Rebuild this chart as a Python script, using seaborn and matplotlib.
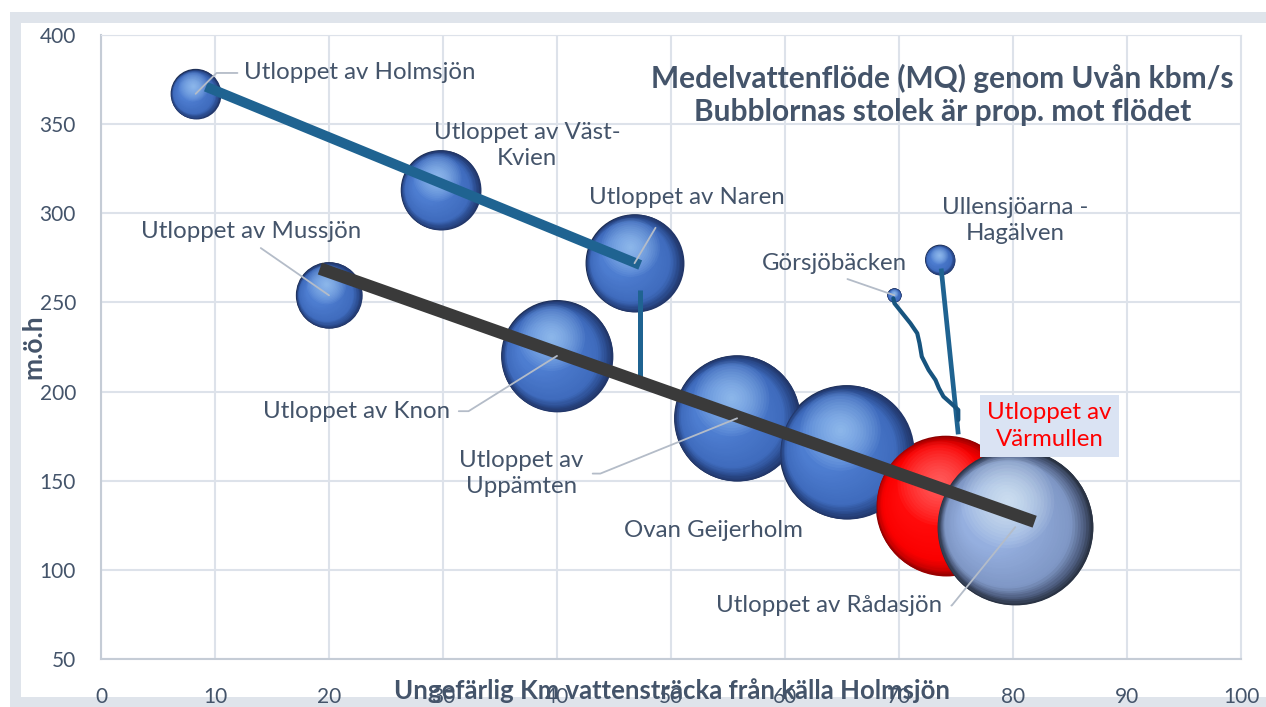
import numpy as np
import pandas as pd
import matplotlib.pyplot as plt
from matplotlib.colors import LinearSegmentedColormap
from matplotlib.patches import Rectangle
from matplotlib.transforms import offset_copy
import seaborn as sns

# bubbles: measuring points along Uvån
names = ['Utloppet av Holmsjön', 'Utloppet av Mussjön', 'Utloppet av Väst-\nKvien',
         'Utloppet av Knon', 'Utloppet av Naren', 'Utloppet av\nUppämten',
         'Ovan Geijerholm', 'Görsjöbäcken', 'Ullensjöarna -\nHagälven',
         'Utloppet av\nVärmullen', 'Utloppet av Rådasjön']
km = [8.3, 20.0, 29.8, 40.0, 46.8, 55.8, 65.4, 69.6, 73.6, 74.1, 80.2]
moh = [367, 254, 313, 220, 272, 185, 166, 254, 274, 136, 124]
mq = [2.5, 4.4, 6.4, 12.5, 9.6, 15.9, 18.0, 0.2, 0.9, 19.6, 24.3]
kind = ['blue'] * 9 + ['red', 'grey']

# river paths drawn between the points
holm_x = [9.2, 47.3]
holm_y = [371, 271]
naren_x = [47.3, 47.3]
naren_y = [257, 205]
main_x = [19.2, 81.9]
main_y = [269, 127]
ullen_x = [73.7, 75.2]
ullen_y = [269, 176]
gors_x = [69.5, 69.6, 70.3, 71.0, 71.6, 71.8, 72.0, 72.6, 73.2, 73.5, 73.9, 74.5, 75.2, 75.2]
gors_y = [252.3, 249.5, 243.9, 238.3, 232.7, 227.1, 219.6, 212.1, 206.5, 201.9, 197.2, 193.8, 189.7, 184.1]

df = pd.DataFrame({'name': names, 'km': km, 'moh': moh, 'mq': mq, 'kind': kind})

sns.set_style("whitegrid")
plt.rcParams['font.family'] = ['Lato', 'DejaVu Sans']

txt = '#44546A'
fig = plt.figure(figsize=(12.66, 7.07), dpi=100)
fig.patch.set_facecolor('white')
# grey chart frame
fig.add_artist(Rectangle((10 / 1266, 0), 1, 695 / 707, transform=fig.transFigure,
                         fc='#dfe4eb', ec='none', zorder=-10))
fig.add_artist(Rectangle((21 / 1266, 10 / 707), 1, 674 / 707, transform=fig.transFigure,
                         fc='white', ec='none', zorder=-9))

ax = fig.add_axes([101 / 1266, 48 / 707, 1140 / 1266, 624 / 707])
ax.set_facecolor('none')

# bubble area proportional to flow
k = 518
sns.scatterplot(data=df, x='km', y='moh', size='mq',
                sizes=(df.mq.min() * k, df.mq.max() * k),
                hue='kind', palette={'blue': '#1b2c4f', 'red': '#8a0000', 'grey': '#232b3a'},
                linewidth=0, legend=False, ax=ax, zorder=2)

cmaps = {
    'blue': LinearSegmentedColormap.from_list('b', [(0, '#22376a'), (0.12, '#2b4c8e'), (0.3, '#3f6bbd'),
                                                    (1, '#4d7dd0')]),
    'red': LinearSegmentedColormap.from_list('r', [(0, '#9a0000'), (0.12, '#d40000'), (0.3, '#fa0000'),
                                                   (1, '#ff0a0a')]),
    'grey': LinearSegmentedColormap.from_list('g', [(0, '#2a3344'), (0.12, '#4e5e80'), (0.3, '#7f97c5'),
                                                    (1, '#95afdf')]),
}
glow = {'blue': '#b5dcff', 'red': '#ff8c8c', 'grey': '#effdff'}

# 3d sphere look: dark rim on the lower right, soft highlight near the top
for _, row in df.iterrows():
    R = np.sqrt(row.mq * k) / 2
    cmap = cmaps[row.kind]
    for t in np.linspace(0, 1, 28):
        r = R * (1 - 0.6 * t)
        tr = offset_copy(ax.transData, fig=fig, x=-0.3 * R * t, y=0.12 * R * t, units='points')
        ax.scatter(row.km, row.moh, s=(2 * r) ** 2, color=cmap(t), linewidths=0,
                   transform=tr, zorder=3)
    tr = offset_copy(ax.transData, fig=fig, x=-0.1 * R, y=0.33 * R, units='points')
    for j in range(14):
        r = 0.6 * R * (1 - j / 14)
        ax.scatter(row.km, row.moh, s=(2 * r) ** 2, color=glow[row.kind], alpha=0.07,
                   linewidths=0, transform=tr, zorder=3)

# river lines
blue = '#1F6391'
ax.plot(holm_x, holm_y, color=blue, lw=7.2, solid_capstyle='butt', zorder=5)
ax.plot(naren_x, naren_y, color=blue, lw=3.6, solid_capstyle='butt', zorder=5)
ax.plot(ullen_x, ullen_y, color=blue, lw=3.4, solid_capstyle='butt', zorder=5)
ax.plot(gors_x, gors_y, color='#17547f', lw=3, solid_joinstyle='round', zorder=5)
ax.plot(main_x, main_y, color='#3a3a3a', lw=9, solid_capstyle='butt', zorder=5)

# labels
lead = '#b4bcc8'
fs = 17.3
def label(i, tx, ty, ha='center', leader=None, **kw):
    if leader is None:
        ax.text(tx, ty, names[i], ha=ha, va='center', fontsize=fs, color=kw.get('color', txt),
                linespacing=1.3, zorder=7, bbox=kw.get('bbox'))
    else:
        relpos, cs, shrink = leader
        ax.annotate(names[i], xy=(km[i], moh[i]), xytext=(tx, ty), ha=ha, va='center',
                    fontsize=fs, color=txt, linespacing=1.3, zorder=7,
                    arrowprops=dict(arrowstyle='-', color=lead, lw=1.3, relpos=relpos,
                                    connectionstyle=cs, shrinkA=shrink, shrinkB=0))

label(0, 12.5, 378.7, ha='left', leader=((0, 0.5), 'angle,angleA=0,angleB=45,rad=0', 2))
label(1, 13.2, 290, leader=((0.5, 0), 'arc3', 4))
label(2, 37.4, 338)
label(3, 22.4, 189, leader=((1, 0.5), 'angle,angleA=0,angleB=32,rad=0', 4))
label(4, 51.4, 309, leader=((0.4, 0), 'arc3', 14))
label(5, 36.9, 154, leader=((1, 0.5), 'angle,angleA=0,angleB=22,rad=0', 4))
label(6, 53.7, 122)
label(7, 64.3, 271.6, leader=((0.5, 0), 'arc3', 3))
label(8, 80.2, 296)
label(9, 83.2, 180.7, color='#ff0000',
      bbox=dict(boxstyle='square,pad=0.3', fc='#dae3f3', ec='none'))
label(10, 63.9, 80, leader=((1, 0.5), 'angle,angleA=0,angleB=51,rad=0', 4))

ax.text(0.738, 0.904, 'Medelvattenflöde (MQ) genom Uvån kbm/s\nBubblornas stolek är prop. mot flödet',
        transform=ax.transAxes, ha='center', va='center', fontsize=21.5, fontweight='bold',
        color=txt, linespacing=1.25, zorder=8)

# axes
ax.set_xlim(0, 100)
ax.set_ylim(50, 400)
ax.set_xticks(range(0, 101, 10))
ax.set_yticks(range(50, 401, 50))
ax.grid(True, color='#dde2ea', lw=1.5)
ax.set_axisbelow(True)
for side in ['top', 'right']:
    ax.spines[side].set_color('#dde2ea')
for side in ['left', 'bottom']:
    ax.spines[side].set_color('#c5ccd6')
    ax.spines[side].set_linewidth(1.5)
ax.tick_params(axis='both', length=0, labelsize=15, colors=txt)
ax.tick_params(axis='x', pad=20)
ax.tick_params(axis='y', pad=18)

ax.set_xlabel('Ungefärlig Km vattensträcka från källa Holmsjön', fontsize=18.5, fontweight='bold',
              color=txt, va='center')
ax.xaxis.set_label_coords(0.501, -0.05)
ax.set_ylabel('m.ö.h', fontsize=19, fontweight='bold', color=txt, va='center')
ax.yaxis.set_label_coords(-0.059, 0.5)

fig.savefig('out.png', dpi=100)
